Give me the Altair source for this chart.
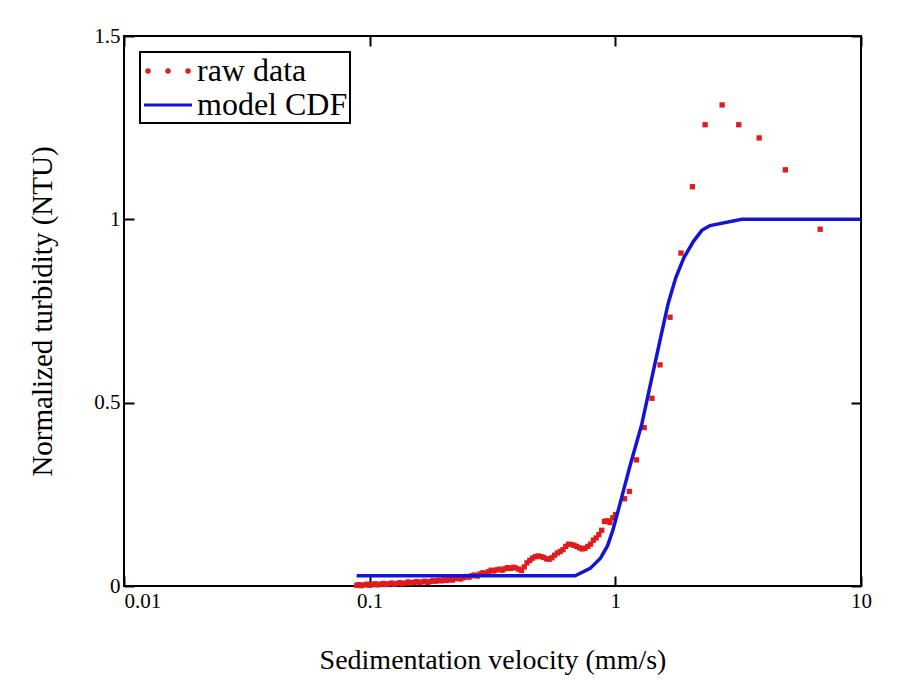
import altair as alt
import pandas as pd

# axis tick values
velocity_ticks = [0.01, 0.1, 1, 10]
turbidity_ticks = [0, 0.5, 1, 1.5]

# measured turbidity (normalized) vs sedimentation velocity (mm/s)
raw_velocity = [
    0.0886, 0.0905, 0.0925, 0.0950, 0.0975, 0.1000, 0.1025, 0.1052, 0.1080, 0.1108,
    0.1137, 0.1166, 0.1196, 0.1228, 0.1260, 0.1293, 0.1327, 0.1362, 0.1398, 0.1435,
    0.1472, 0.1511, 0.1550, 0.1591, 0.1633, 0.1676, 0.1720, 0.1765, 0.1811, 0.1859,
    0.1908, 0.1958, 0.2009, 0.2062, 0.2116, 0.2172, 0.2229, 0.2287, 0.2347, 0.2409,
    0.2472, 0.2537, 0.2603, 0.2672, 0.2742, 0.2814, 0.2888, 0.2963, 0.3041, 0.3121,
    0.3203, 0.3287, 0.3373, 0.3462, 0.3553, 0.3646, 0.3741, 0.3840, 0.3940, 0.4044,
    0.4150, 0.4259, 0.4370, 0.4485, 0.4603, 0.4724, 0.4848, 0.4975, 0.5106, 0.5240,
    0.5377, 0.5518, 0.5663, 0.5812, 0.5964, 0.6121, 0.6281, 0.6446, 0.6615, 0.6789,
    0.6967, 0.7150, 0.7338, 0.7530, 0.7728, 0.7931, 0.8139, 0.8353, 0.8572, 0.8797,
    0.9028, 0.9265, 0.9508, 0.9758, 1.0014,
    1.09, 1.14, 1.22, 1.31, 1.41, 1.52, 1.67, 1.85, 2.06, 2.32,
    2.72, 3.18, 3.85, 4.92, 6.82,
]
raw_turbidity = [
    0.002, 0.004, 0.001, 0.003, 0.005, 0.002, 0.004, 0.006, 0.003, 0.005,
    0.007, 0.004, 0.006, 0.008, 0.005, 0.007, 0.009, 0.006, 0.008, 0.011,
    0.008, 0.010, 0.012, 0.009, 0.011, 0.013, 0.010, 0.012, 0.015, 0.013,
    0.016, 0.014, 0.017, 0.015, 0.018, 0.016, 0.020, 0.022, 0.019, 0.023,
    0.026, 0.024, 0.028, 0.030, 0.027, 0.033, 0.036, 0.034, 0.039, 0.043,
    0.041, 0.044, 0.046, 0.043, 0.047, 0.050, 0.048, 0.051, 0.049, 0.046,
    0.042, 0.052, 0.063, 0.070, 0.076, 0.080, 0.082, 0.080, 0.078, 0.074,
    0.073, 0.077, 0.084, 0.090, 0.094, 0.099, 0.108, 0.114, 0.113, 0.111,
    0.108, 0.104, 0.101, 0.103, 0.108, 0.114, 0.125, 0.131, 0.140, 0.152,
    0.176, 0.178, 0.173, 0.186, 0.195,
    0.238, 0.258, 0.344, 0.432, 0.512, 0.603, 0.733, 0.908, 1.089, 1.258,
    1.312, 1.258, 1.222, 1.135, 0.973,
]

# fitted model CDF
model_velocity = [
    0.0885, 0.686, 0.79, 0.87, 0.93, 0.98, 1.05, 1.15, 1.28, 1.40,
    1.52, 1.64, 1.76, 1.90, 2.08, 2.25, 2.43, 3.27, 10.0,
]
model_cdf = [
    0.028, 0.028, 0.048, 0.076, 0.11, 0.155, 0.23, 0.33, 0.44, 0.56,
    0.67, 0.77, 0.84, 0.895, 0.94, 0.97, 0.983, 1.0, 1.0,
]

series_names = ["raw data", "model CDF"]
series_colors = ["#e01b1b", "#1414d8"]

serif = "Liberation Serif"

# legend glyphs: three dots and a short line
dots_path = (
    "M -1.37 0 A 0.08 0.08 0 1 0 -1.21 0 A 0.08 0.08 0 1 0 -1.37 0 Z "
    "M -0.08 0 A 0.08 0.08 0 1 0 0.08 0 A 0.08 0.08 0 1 0 -0.08 0 Z "
    "M 1.21 0 A 0.08 0.08 0 1 0 1.37 0 A 0.08 0.08 0 1 0 1.21 0 Z"
)
line_path = "M -1.55 0 L 1.55 0"

raw = pd.DataFrame({"v": raw_velocity, "t": raw_turbidity})
model = pd.DataFrame({"v": model_velocity, "t": model_cdf})
legend_df = pd.DataFrame({"series": series_names})

x_scale = alt.Scale(type="log", domain=[0.01, 10], nice=False)
y_scale = alt.Scale(domain=[0, 1.5], nice=False, zero=False)

tick_style = dict(domain=False, grid=False, ticks=True, tickSize=10,
                  tickWidth=2, tickColor="black", offset=-10)

points = alt.Chart(raw).mark_square(size=28, color=series_colors[0], opacity=1).encode(
    x=alt.X("v:Q", scale=x_scale, axis=alt.Axis(
        orient="bottom", values=velocity_ticks, format="~g",
        title="Sedimentation velocity (mm/s)", labelPadding=4, titlePadding=35,
        labelFlush=False,
        labelAlign=alt.condition("datum.value <= 0.011", alt.value("left"), alt.value("center")),
        **tick_style)),
    y=alt.Y("t:Q", scale=y_scale, axis=alt.Axis(
        orient="left", values=turbidity_ticks, format="~g",
        title="Normalized turbidity (NTU)", labelPadding=4, titlePadding=36,
        titleFontSize=29, **tick_style)),
)

curve = alt.Chart(model).mark_line(color=series_colors[1], strokeWidth=3.5).encode(
    x=alt.X("v:Q", scale=x_scale, axis=alt.Axis(
        orient="top", values=velocity_ticks, labels=False, title=None, **tick_style)),
    y=alt.Y("t:Q", scale=y_scale, axis=alt.Axis(
        orient="right", values=turbidity_ticks, labels=False, title=None, **tick_style)),
)

key = alt.Chart(legend_df).mark_point(opacity=0, filled=False, strokeWidth=3).encode(
    color=alt.Color("series:N", title=None,
                    scale=alt.Scale(domain=series_names, range=series_colors)),
    shape=alt.Shape("series:N", title=None,
                    scale=alt.Scale(domain=series_names, range=[dots_path, line_path])),
)

chart = alt.layer(points, curve, key).resolve_axis(
    x="independent", y="independent"
).properties(
    width=737,
    height=550,
    autosize=alt.AutoSizeParams(type="none"),
    padding={"left": 116, "top": 28, "right": 39, "bottom": 100},
    background="white",
).configure_view(
    stroke="black",
    strokeWidth=2,
).configure_axis(
    labelFont=serif,
    labelFontSize=21,
    labelColor="black",
    titleFont=serif,
    titleFontSize=28,
    titleFontWeight="normal",
    titleColor="black",
).configure_legend(
    orient="top-left",
    offset=16,
    padding=2,
    strokeColor="black",
    strokeWidth=2,
    fillColor="white",
    symbolSize=961,
    symbolStrokeWidth=3,
    symbolOpacity=1,
    symbolOffset=9,
    rowPadding=1,
    labelFont=serif,
    labelFontSize=32,
    labelColor="black",
    labelLimit=400,
    labelOffset=12,
)

chart.save("out.html", embed_options={"renderer": "svg", "actions": False})
